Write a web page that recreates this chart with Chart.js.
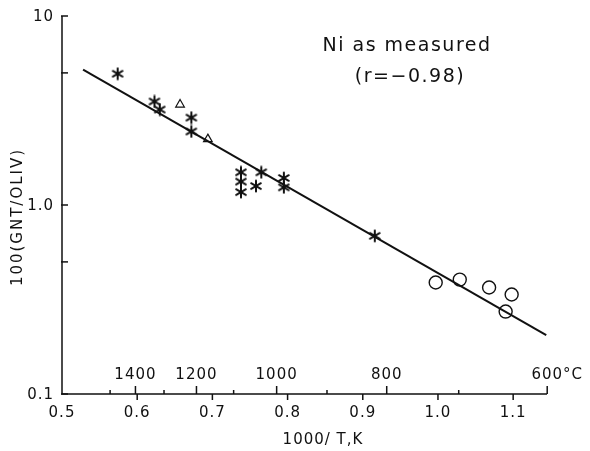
<!DOCTYPE html>
<html>
<head>
<meta charset="UTF-8">
<title>Ni as measured</title>
<script src="https://cdn.jsdelivr.net/npm/chart.js"></script>
<style>
  body { margin: 0; background: #fff; }
  #grafico { display: block; }
</style>
</head>
<body>
<canvas id="grafico" width="590" height="451"></canvas>
<script>
// values
const starX = [0.574, 0.623, 0.630, 0.672, 0.672, 0.738, 0.738, 0.738, 0.758, 0.765, 0.795, 0.795, 0.916];
const starY = [4.95, 3.53, 3.20, 2.90, 2.45, 1.49, 1.33, 1.17, 1.26, 1.49, 1.39, 1.24, 0.687];
const triX = [0.657, 0.694];
const triY = [3.40, 2.23];
const circX = [0.997, 1.029, 1.068, 1.098, 1.090];
const circY = [0.389, 0.403, 0.366, 0.336, 0.273];
const lineX = [0.528, 1.144];
const lineY = [5.2, 0.205];

const xTicks = [0.5, 0.6, 0.7, 0.8, 0.9, 1.0, 1.1];
const xTickLabels = ['0.5', '0.6', '0.7', '0.8', '0.9', '1.0', '1.1'];
const yTicks = [0.1, 0.5, 1, 5, 10];
const yTickLabels = ['0.1', '', '1.0', '', '10'];
const tempMajor = [1400, 1200, 1000, 800, 600];
const tempLabels = ['1400', '1200', '1000', '800', '600'];
const tempMinor = [1500, 1300, 1100, 900, 700];

function pares(xs, ys) {
    return xs.map((x, i) => ({ x: x, y: ys[i] }));
}

// asterisk marker, 6 arms
function fazerAsterisco() {
    const c = document.createElement('canvas');
    c.width = 14; c.height = 14;
    const g = c.getContext('2d');
    g.strokeStyle = '#111';
    g.lineWidth = 2;
    g.lineCap = 'round';
    const r = 5.6;
    [90, 30, 150].forEach(a => {
        const t = a * Math.PI / 180;
        g.beginPath();
        g.moveTo(7 - r * Math.cos(t), 7 - r * Math.sin(t));
        g.lineTo(7 + r * Math.cos(t), 7 + r * Math.sin(t));
        g.stroke();
    });
    return c;
}

const fonte = '"DejaVu Sans", sans-serif';
const cor = '#111';

function texto(ctx, s, x, y, tam, esp, alinhar) {
    ctx.font = tam + 'px ' + fonte;
    ctx.letterSpacing = esp + 'px';
    ctx.textAlign = alinhar || 'center';
    ctx.textBaseline = 'middle';
    ctx.fillText(s, x, y);
}

const eixos = {
    id: 'eixos',
    afterDraw(chart) {
        const ctx = chart.ctx;
        const xs = chart.scales.x, ys = chart.scales.y;
        const a = chart.chartArea;
        ctx.save();
        ctx.strokeStyle = cor;
        ctx.fillStyle = cor;
        ctx.lineWidth = 1.5;

        // axis lines
        ctx.beginPath();
        ctx.moveTo(a.left, a.top);
        ctx.lineTo(a.left, a.bottom);
        ctx.lineTo(a.right, a.bottom);
        ctx.stroke();

        // y ticks (inward) + labels
        yTicks.forEach((v, i) => {
            const py = ys.getPixelForValue(v);
            ctx.beginPath();
            ctx.moveTo(a.left - 1, py);
            ctx.lineTo(a.left + 6, py);
            ctx.stroke();
            if (yTickLabels[i]) texto(ctx, yTickLabels[i], a.left - 8, py + 1, 15, 1, 'right');
        });

        // x ticks (outward) + labels
        xTicks.forEach((v, i) => {
            const px = xs.getPixelForValue(v);
            if (i > 0) {
                ctx.beginPath();
                ctx.moveTo(px, a.bottom);
                ctx.lineTo(px, a.bottom + 6);
                ctx.stroke();
            }
            texto(ctx, xTickLabels[i], px, a.bottom + 19, 15, 1);
        });

        // temperature ticks on top of x axis
        tempMajor.forEach((t, i) => {
            const px = xs.getPixelForValue(1000 / (t + 273.15));
            ctx.beginPath();
            ctx.moveTo(px, a.bottom);
            ctx.lineTo(px, a.bottom - 8);
            ctx.stroke();
            if (i === tempMajor.length - 1) {
                ctx.font = '15px ' + fonte;
                ctx.letterSpacing = '1px';
                const w = ctx.measureText(tempLabels[i]).width;
                texto(ctx, tempLabels[i] + '°C', px - w / 2, a.bottom - 19, 15, 1, 'left');
            } else {
                texto(ctx, tempLabels[i], px, a.bottom - 19, 15, 1);
            }
        });
        tempMinor.forEach(t => {
            const px = xs.getPixelForValue(1000 / (t + 273.15));
            ctx.beginPath();
            ctx.moveTo(px, a.bottom);
            ctx.lineTo(px, a.bottom - 4);
            ctx.stroke();
        });

        // axis titles
        texto(ctx, '1000/ T,K', 323, 440, 15, 1);
        ctx.save();
        ctx.translate(18, 217);
        ctx.rotate(-Math.PI / 2);
        texto(ctx, '100(GNT/OLIV)', 0, 0, 15, 2);
        ctx.restore();

        // annotation
        texto(ctx, 'Ni as measured', 407, 46, 19, 1.5);
        texto(ctx, '(r=\u22120.98)', 410, 77, 19, 1.5);
        ctx.restore();
    }
};

const estrela = fazerAsterisco();

new Chart(document.getElementById('grafico'), {
    type: 'scatter',
    data: {
        datasets: [
            {
                type: 'line',
                label: 'ajuste',
                data: pares(lineX, lineY),
                borderColor: cor,
                borderWidth: 2,
                pointRadius: 0,
                fill: false
            },
            {
                label: 'asteriscos',
                data: pares(starX, starY),
                pointStyle: estrela,
                pointRadius: 6
            },
            {
                label: 'triangulos',
                data: pares(triX, triY),
                pointStyle: 'triangle',
                pointRadius: 5,
                borderColor: cor,
                borderWidth: 1.2,
                backgroundColor: 'rgba(255,255,255,0)'
            },
            {
                label: 'circulos',
                data: pares(circX, circY),
                pointStyle: 'circle',
                pointRadius: 6.5,
                borderColor: cor,
                borderWidth: 1.4,
                backgroundColor: 'rgba(255,255,255,0)'
            }
        ]
    },
    options: {
        responsive: false,
        animation: false,
        clip: false,
        layout: { padding: { left: 62, right: 43, top: 16, bottom: 57 } },
        scales: {
            x: { type: 'linear', min: 0.5, max: 1.145, display: false },
            y: { type: 'logarithmic', min: 0.1, max: 10, display: false }
        },
        plugins: {
            legend: { display: false },
            tooltip: { enabled: false }
        }
    },
    plugins: [eixos]
});
</script>
</body>
</html>
